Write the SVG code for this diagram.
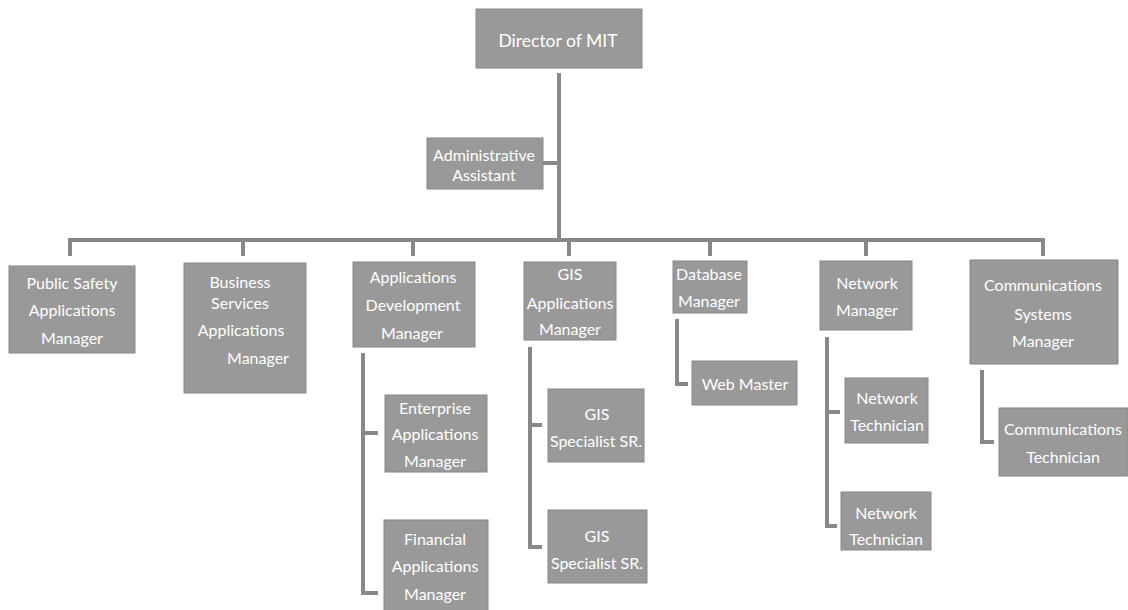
<svg xmlns="http://www.w3.org/2000/svg" width="1128" height="610" viewBox="0 0 1128 610">
<style>
.box{fill:#999999;stroke:#888888;stroke-width:1}
.t{font-family:Lato,"Liberation Sans",sans-serif;font-size:16px;fill:#ffffff;text-anchor:middle;dominant-baseline:central}
.big{font-size:17.5px}
.c{fill:none;stroke:#888888;stroke-width:4;stroke-linejoin:miter}
</style>
<rect width="1128" height="610" fill="#ffffff"/>
<g id="connectors">
<path class="c" d="M559 73 V240"/>
<path class="c" d="M543 163 H559"/>
<path class="c" d="M70 256 V240 H1043 V256"/>
<path class="c" d="M243 240 V256"/>
<path class="c" d="M413 240 V256"/>
<path class="c" d="M569 240 V256"/>
<path class="c" d="M710 240 V256"/>
<path class="c" d="M866 240 V256"/>
<path class="c" d="M363 353 V593 H378"/>
<path class="c" d="M363 433 H378"/>
<path class="c" d="M530 347 V547 H542"/>
<path class="c" d="M530 425 H542"/>
<path class="c" d="M677 319 V384 H688"/>
<path class="c" d="M827 337 V526 H837"/>
<path class="c" d="M827 412 H840"/>
<path class="c" d="M982 370 V442 H994"/>
</g>
<g id="director"><rect class="box" x="476" y="9" width="166" height="59"/><text class="t big" x="558" y="40">Director of MIT</text></g>
<g id="admin"><rect class="box" x="427" y="138" width="116" height="51"/><text class="t" x="484" y="154">Administrative</text><text class="t" x="484" y="174">Assistant</text></g>
<g id="public-safety"><rect class="box" x="9" y="266" width="126" height="87"/><text class="t" x="72" y="282">Public Safety</text><text class="t" x="72" y="309">Applications</text><text class="t" x="72" y="337">Manager</text></g>
<g id="business-services"><rect class="box" x="184" y="263" width="122" height="130"/><text class="t" x="240" y="281">Business</text><text class="t" x="240" y="302">Services</text><text class="t" x="241" y="329">Applications</text><text class="t" x="258" y="357">Manager</text></g>
<g id="apps-dev"><rect class="box" x="353" y="262" width="122" height="85"/><text class="t" x="413" y="276">Applications</text><text class="t" x="413" y="304">Development</text><text class="t" x="412" y="332">Manager</text></g>
<g id="gis-apps"><rect class="box" x="524" y="262" width="92" height="78"/><text class="t" x="570" y="273">GIS</text><text class="t" x="570" y="302">Applications</text><text class="t" x="570" y="328">Manager</text></g>
<g id="database"><rect class="box" x="673" y="261" width="74" height="52"/><text class="t" x="709" y="273">Database</text><text class="t" x="709" y="300">Manager</text></g>
<g id="network-mgr"><rect class="box" x="820" y="261" width="92" height="69"/><text class="t" x="867" y="282">Network</text><text class="t" x="867" y="309">Manager</text></g>
<g id="comm-sys"><rect class="box" x="970" y="260" width="148" height="104"/><text class="t" x="1043" y="284">Communications</text><text class="t" x="1043" y="313">Systems</text><text class="t" x="1043" y="340">Manager</text></g>
<g id="enterprise"><rect class="box" x="385" y="395" width="102" height="77"/><text class="t" x="435" y="407">Enterprise</text><text class="t" x="435" y="433">Applications</text><text class="t" x="435" y="460">Manager</text></g>
<g id="financial"><rect class="box" x="384" y="520" width="104" height="92"/><text class="t" x="435" y="538">Financial</text><text class="t" x="435" y="565">Applications</text><text class="t" x="435" y="593">Manager</text></g>
<g id="gis-spec-1"><rect class="box" x="548" y="389" width="96" height="73"/><text class="t" x="597" y="413">GIS</text><text class="t" x="596" y="440">Specialist SR.</text></g>
<g id="gis-spec-2"><rect class="box" x="548" y="510" width="99" height="73"/><text class="t" x="597" y="535">GIS</text><text class="t" x="597" y="562">Specialist SR.</text></g>
<g id="web-master"><rect class="box" x="692" y="361" width="105" height="44"/><text class="t" x="745" y="383">Web Master</text></g>
<g id="net-tech-1"><rect class="box" x="845" y="378" width="83" height="65"/><text class="t" x="887" y="397">Network</text><text class="t" x="887" y="424">Technician</text></g>
<g id="net-tech-2"><rect class="box" x="841" y="492" width="90" height="58"/><text class="t" x="886" y="512">Network</text><text class="t" x="886" y="538">Technician</text></g>
<g id="comm-tech"><rect class="box" x="999" y="408" width="129" height="68"/><text class="t" x="1063" y="428">Communications</text><text class="t" x="1063" y="456">Technician</text></g>
</svg>
